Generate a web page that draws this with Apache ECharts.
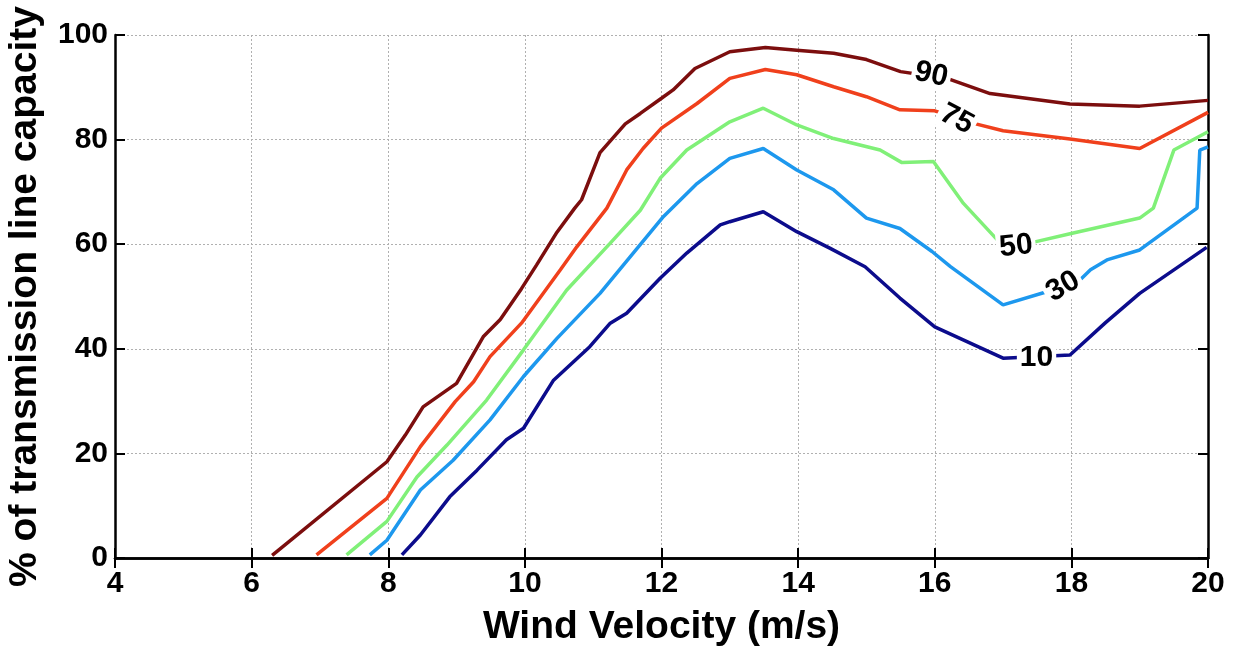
<!DOCTYPE html>
<html>
<head>
<meta charset="utf-8">
<script src="https://cdn.jsdelivr.net/npm/echarts@6/dist/echarts.min.js"></script>
<style>
  html, body { margin: 0; padding: 0; background: #ffffff; }
  #chart { width: 1234px; height: 648px; }
</style>
</head>
<body>
<div id="chart"></div>
<script>
// Contour levels of transmission line capacity vs wind velocity
const levelNames = ['10', '30', '50', '75', '90'];

// [wind velocity (m/s), % of transmission line capacity]
const level10 = [
  [8.2, 0.6], [8.47, 4.4], [8.9, 11.7], [9.3, 16.8], [9.73, 22.6], [9.98, 24.8],
  [10.42, 34.0], [10.95, 40.4], [11.25, 44.9], [11.49, 46.8], [11.98, 53.5],
  [12.37, 58.3], [12.86, 63.7], [13.0, 64.3], [13.49, 66.2], [13.98, 62.4],
  [14.47, 59.2], [14.98, 55.7], [15.49, 49.7], [16.0, 44.2], [17.0, 38.2],
  [17.98, 38.8], [18.5, 45.0], [19.0, 50.6], [19.98, 59.4]
];
const level30 = [
  [7.73, 0.6], [7.98, 3.4], [8.47, 13.0], [8.95, 18.7], [9.49, 26.4], [9.98, 34.7],
  [10.47, 42.0], [11.1, 50.6], [12.03, 65.3], [12.52, 71.6], [13.0, 76.4],
  [13.49, 78.3], [13.98, 74.2], [14.52, 70.4], [15.0, 65.0], [15.49, 63.0],
  [15.96, 58.6], [16.23, 55.7], [17.0, 48.4], [17.64, 50.9], [18.1, 52.8],
  [18.28, 55.1], [18.52, 57.0], [19.0, 58.9], [19.84, 66.9], [19.88, 78.0], [20.0, 78.6]
];
const level50 = [
  [7.39, 0.6], [7.98, 7.0], [8.42, 15.5], [8.86, 21.6], [9.44, 30.2], [9.98, 39.8],
  [10.61, 51.2], [11.25, 60.2], [11.69, 66.5], [11.98, 72.6], [12.37, 78.0],
  [13.0, 83.4], [13.49, 86.0], [13.98, 82.8], [14.52, 80.2], [15.2, 78.0],
  [15.52, 75.6], [15.98, 75.8], [16.42, 67.8], [16.96, 60.2], [17.42, 60.3],
  [17.98, 62.0], [19.0, 65.0], [19.2, 66.9], [19.5, 78.0], [20.0, 81.5]
];
const level75 = [
  [6.95, 0.6], [7.98, 11.4], [8.47, 21.3], [8.98, 29.9], [9.25, 33.7], [9.49, 38.5],
  [9.95, 44.9], [10.52, 55.1], [10.76, 59.5], [11.2, 66.9], [11.49, 74.2],
  [11.73, 78.3], [12.0, 82.2], [12.52, 86.9], [13.0, 91.7], [13.52, 93.4],
  [13.98, 92.4], [14.52, 90.1], [15.0, 88.2], [15.49, 85.7], [16.0, 85.5],
  [16.57, 83.1], [17.0, 81.7], [17.98, 80.1], [19.0, 78.3], [20.0, 85.2]
];
const level90 = [
  [6.3, 0.5], [7.98, 18.4], [8.25, 23.5], [8.51, 28.9], [9.0, 33.4], [9.39, 42.3],
  [9.64, 45.6], [9.95, 51.5], [10.17, 56.0], [10.47, 62.3], [10.73, 66.9],
  [10.83, 68.5], [11.1, 77.5], [11.47, 83.0], [11.69, 85.0], [12.0, 87.9],
  [12.17, 89.5], [12.49, 93.6], [13.0, 96.8], [13.52, 97.6], [13.98, 97.1],
  [14.52, 96.5], [15.0, 95.3], [15.5, 93.0], [16.18, 91.7], [16.81, 88.8],
  [17.98, 86.8], [19.0, 86.4], [20.0, 87.5]
];

const xTicks = { min: 4, max: 20, step: 2 };
const yTicks = { min: 0, max: 100, step: 20 };

const levelData = [level10, level30, level50, level75, level90];
const levelColors = ['#0c0c8c', '#1d98ee', '#80f078', '#f0401c', '#7c0e0e'];

// Inline contour label placement: [x, y, rotation in degrees]
const labelPlacement = [
  [17.49, 38.3, 0],
  [17.88, 51.9, 30],
  [17.19, 59.6, 6],
  [16.32, 83.9, -28],
  [15.95, 92.4, -12]
];

const FONT = '"Liberation Sans", Arial, Helvetica, sans-serif';

const lineSeries = levelData.map((d, i) => ({
  type: 'line',
  name: levelNames[i],
  data: d,
  showSymbol: false,
  symbol: 'none',
  smooth: false,
  z: 3,
  lineStyle: { color: levelColors[i], width: 3.5 },
  emphasis: { disabled: true },
  silent: true
}));

const labelSeries = {
  type: 'scatter',
  z: 10,
  symbolSize: 0,
  silent: true,
  itemStyle: { opacity: 1 },
  data: labelPlacement.map((p, i) => ({
    value: [p[0], p[1]],
    label: {
      show: true,
      position: 'inside',
      formatter: levelNames[i],
      rotate: p[2],
      fontFamily: FONT,
      fontSize: 30,
      fontWeight: 'bold',
      color: '#000000',
      opacity: 1,
      textBorderWidth: 0,
      backgroundColor: '#ffffff',
      padding: [0, 3]
    }
  }))
};

const boxAxisLine = { show: true, lineStyle: { color: '#000000', width: 2.5 } };
const boxTick = { show: true, inside: true, length: 10, lineStyle: { color: '#000000', width: 2 } };

const option = {
  backgroundColor: '#ffffff',
  animation: false,
  grid: { left: 115, right: 26, top: 35, bottom: 90, containLabel: false, outerBoundsMode: 'none' },
  xAxis: [
    {
      type: 'value', position: 'bottom',
      min: xTicks.min, max: xTicks.max, interval: xTicks.step,
      axisLine: boxAxisLine, axisTick: boxTick,
      axisLabel: { color: '#000000', fontFamily: FONT, fontSize: 30, fontWeight: 'bold', margin: 11 },
      splitLine: { show: true, lineStyle: { color: '#b0b0b0', type: [2, 2], width: 1 } },
      name: 'Wind Velocity (m/s)', nameLocation: 'middle', nameGap: 50,
      nameTextStyle: { color: '#000000', fontFamily: FONT, fontSize: 39, fontWeight: 'bold' }
    },
    {
      type: 'value', position: 'top',
      min: xTicks.min, max: xTicks.max, interval: xTicks.step,
      axisLine: boxAxisLine, axisTick: boxTick,
      axisLabel: { show: false }, splitLine: { show: false }
    }
  ],
  yAxis: [
    {
      type: 'value', position: 'left',
      min: yTicks.min, max: yTicks.max, interval: yTicks.step,
      axisLine: boxAxisLine, axisTick: boxTick,
      axisLabel: { color: '#000000', fontFamily: FONT, fontSize: 30, fontWeight: 'bold', margin: 7 },
      splitLine: { show: true, lineStyle: { color: '#b0b0b0', type: [2, 2], width: 1 } },
      name: '% of transmission line capacity', nameLocation: 'middle', nameGap: 70,
      nameTextStyle: { color: '#000000', fontFamily: FONT, fontSize: 39, fontWeight: 'bold' }
    },
    {
      type: 'value', position: 'right',
      min: yTicks.min, max: yTicks.max, interval: yTicks.step,
      axisLine: boxAxisLine, axisTick: boxTick,
      axisLabel: { show: false }, splitLine: { show: false }
    }
  ],
  series: lineSeries.concat([labelSeries])
};

const chart = echarts.init(document.getElementById('chart'), null, { renderer: 'canvas' });
chart.setOption(option);
</script>
</body>
</html>
